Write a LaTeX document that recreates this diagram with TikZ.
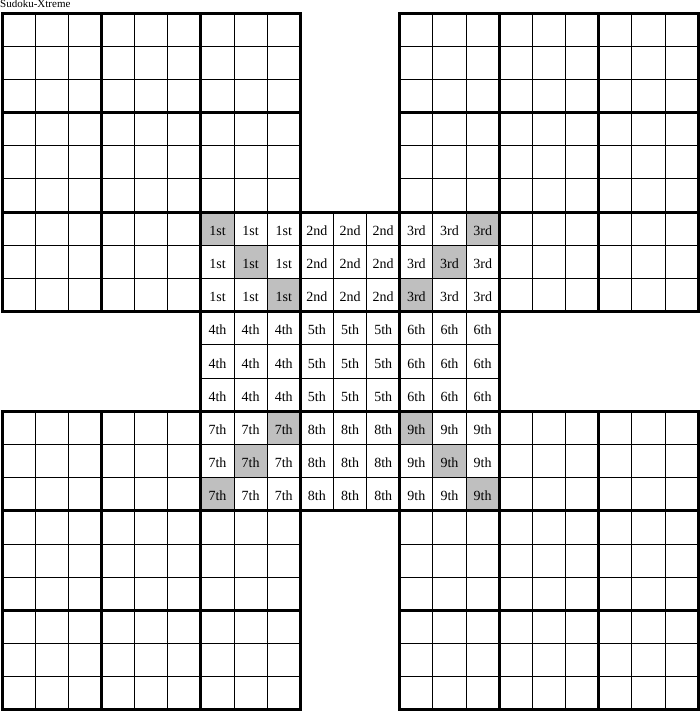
\documentclass[tikz,border=0pt]{standalone}
\usepackage{fontspec}
\setmainfont{Liberation Serif}
\tikzset{
  cellshade/.style={fill=black!25},
  thinline/.style={line width=1pt},
  thickline/.style={line width=3pt, line cap=rect},
  lbl/.style={font=\fontsize{14}{14}\selectfont, inner sep=0pt, anchor=base},
}
\begin{document}
\begin{tikzpicture}[x=1pt,y=-1pt]
\useasboundingbox (0,0) rectangle (700,712);
\node[anchor=base west, font=\fontsize{11}{11}\selectfont, inner sep=0pt] (title) at (0,8) {Sudoku-Xtreme};
\begin{scope}[xshift=2pt, yshift=-13pt, x=33.15pt, y=-33.19pt]
  % shaded cells
  \foreach \r/\c in {6/6,7/7,8/8,6/14,7/13,8/12,12/8,13/7,14/6,12/12,13/13,14/14}
    \fill[cellshade] (\c,\r) rectangle ++(1,1);
  % thin grid lines
  \foreach \gc/\gr in {0/0,12/0,6/6,0/12,12/12}{
    \foreach \k in {1,2,4,5,7,8}{
      \draw[thinline] (\gc+\k,\gr) -- (\gc+\k,\gr+9);
      \draw[thinline] (\gc,\gr+\k) -- (\gc+9,\gr+\k);
    }
  }
  % thick box lines
  \foreach \gc/\gr in {0/0,12/0,6/6,0/12,12/12}{
    \foreach \k in {0,3,6,9}{
      \draw[thickline] (\gc+\k,\gr) -- (\gc+\k,\gr+9);
      \draw[thickline] (\gc,\gr+\k) -- (\gc+9,\gr+\k);
    }
  }
  % labels
  \foreach \lab [count=\i from 0] in {1st,2nd,3rd,4th,5th,6th,7th,8th,9th}{
    \pgfmathtruncatemacro{\br}{6+3*int(\i/3)}
    \pgfmathtruncatemacro{\bc}{6+3*mod(\i,3)}
    \foreach \dr in {0,1,2}{
      \foreach \dc in {0,1,2}{
        \pgfmathtruncatemacro{\rr}{\br+\dr}
        \pgfmathtruncatemacro{\cc}{\bc+\dc}
        \node[lbl] (n-\rr-\cc) at (\cc+0.5,\rr+0.7) {\lab};
      }
    }
  }
\end{scope}
\end{tikzpicture}
\end{document}
